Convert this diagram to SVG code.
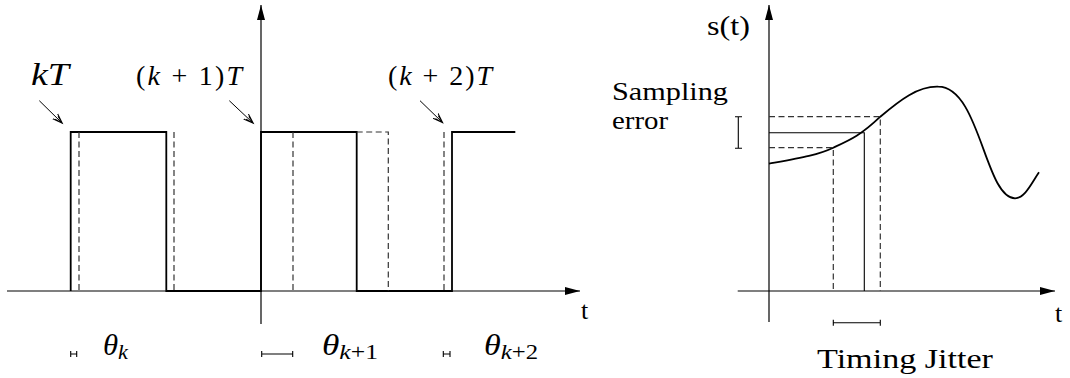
<svg xmlns="http://www.w3.org/2000/svg" width="1070" height="378" viewBox="0 0 1070 378" font-family="'Liberation Serif', 'Times New Roman', serif">
<style>
.ax{fill:none;stroke:#000;stroke-width:1.2}
.sig{fill:none;stroke:#000;stroke-width:1.8}
.thin{fill:none;stroke:#000;stroke-width:1.1}
.dash{fill:none;stroke:#333;stroke-width:1.2;stroke-dasharray:6 3.5}
.ptr{fill:none;stroke:#000;stroke-width:1}
text{font-family:"Liberation Serif","Times New Roman",serif;fill:#000}
.m{font-style:italic}
</style>
<defs>
<marker id="ah" markerUnits="userSpaceOnUse" markerWidth="16" markerHeight="10" refX="15" refY="4.5" orient="auto">
<path d="M0,0.5 L15,4.5 L0,8.5 Z" fill="#000"/>
</marker>
<marker id="ph" markerUnits="userSpaceOnUse" markerWidth="12" markerHeight="10" refX="10" refY="5" orient="auto">
<path d="M0,1.5 L10,5 L0,8.5 M2,3 L10,5 L2,7" fill="none" stroke="#000" stroke-width="1"/>
</marker>
</defs>

<g id="left-axes">
<line class="ax" x1="7" y1="291" x2="580" y2="291" marker-end="url(#ah)"/>
<line class="ax" x1="261" y1="324" x2="261" y2="5" marker-end="url(#ah)"/>
<text x="581" y="319" font-size="26">t</text>
</g>

<g id="signal">
<path class="sig" d="M70.7,291 V132 H166.3 V291 H261 V132 H356.7 V291 H452 V132 H515.3"/>
</g>

<g id="delayed-signal">
<path class="dash" d="M79,132 V291"/>
<path class="dash" d="M174,132 V291"/>
<path class="dash" d="M293,132 V291"/>
<path class="dash" d="M356.7,132 H388.3 V291"/>
<path class="dash" d="M444,132 V291"/>
</g>

<g id="labels-kT">
<text x="31" y="85" font-size="31" class="m" textLength="38" lengthAdjust="spacingAndGlyphs">kT</text>
<text x="136" y="85" font-size="28" textLength="106" lengthAdjust="spacing">(<tspan class="m">k</tspan> + 1)<tspan class="m">T</tspan></text>
<text x="388" y="85" font-size="28" textLength="104" lengthAdjust="spacing">(<tspan class="m">k</tspan> + 2)<tspan class="m">T</tspan></text>
</g>

<g id="connectors">
<line class="ptr" x1="39.3" y1="100.7" x2="62.3" y2="123.3" marker-end="url(#ph)"/>
<line class="ptr" x1="229.3" y1="100.7" x2="253.3" y2="123.3" marker-end="url(#ph)"/>
<line class="ptr" x1="420" y1="100.7" x2="442.7" y2="122.7" marker-end="url(#ph)"/>
</g>

<g id="theta">
<path class="thin" d="M70.7,354 H76.7 M70.7,351 V357 M76.7,351 V357"/>
<path class="thin" d="M261.7,354 H292.7 M261.7,351 V357 M292.7,351 V357"/>
<path class="thin" d="M443.3,354 H450 M443.3,351 V357 M450,351 V357"/>
<text x="103" y="355" font-size="29" class="m" textLength="25" lengthAdjust="spacingAndGlyphs">θ<tspan font-size="21" dy="4">k</tspan></text>
<text x="322" y="355" font-size="29" class="m" textLength="56" lengthAdjust="spacingAndGlyphs">θ<tspan font-size="21" dy="4">k</tspan><tspan font-size="21" font-style="normal">+1</tspan></text>
<text x="484" y="355" font-size="29" class="m" textLength="54" lengthAdjust="spacingAndGlyphs">θ<tspan font-size="21" dy="4">k</tspan><tspan font-size="21" font-style="normal">+2</tspan></text>
</g>

<g id="right-axes">
<line class="ax" x1="737.7" y1="291" x2="1055" y2="291" marker-end="url(#ah)"/>
<line class="ax" x1="769" y1="322" x2="769" y2="5" marker-end="url(#ah)"/>
<text x="707" y="35" font-size="27" textLength="43" lengthAdjust="spacingAndGlyphs">s(t)</text>
<text x="1055" y="322" font-size="26">t</text>
</g>

<g id="curve">
<path class="sig" stroke-width="1.6" d="M769,163.7 C800,158 818,155 833.3,147.7 C850,140 860,136 880.3,116.7 C900,100 918,86 938.3,86.7 C980,87 985,198 1015,198.3 C1025,198 1031,184 1039,172.3"/>
</g>

<g id="sampling">
<path class="dash" d="M769,116.7 H880.3 V291"/>
<path class="dash" d="M769,147.7 H833.3 V291"/>
<path class="thin" d="M769,132.7 H864.3 V291"/>
</g>

<g id="sampling-error">
<path class="thin" d="M738.3,116.7 V148.3 M735,116.7 H742 M735,148.3 H742"/>
<text x="612" y="100" font-size="26" textLength="116" lengthAdjust="spacingAndGlyphs">Sampling</text>
<text x="612" y="129" font-size="26" textLength="56" lengthAdjust="spacingAndGlyphs">error</text>
</g>

<g id="timing-jitter">
<path class="thin" d="M833.3,322.7 H880.3 M833.3,319.7 V325.7 M880.3,319.7 V325.7"/>
<text x="817" y="368" font-size="27" textLength="176" lengthAdjust="spacingAndGlyphs">Timing Jitter</text>
</g>
</svg>
